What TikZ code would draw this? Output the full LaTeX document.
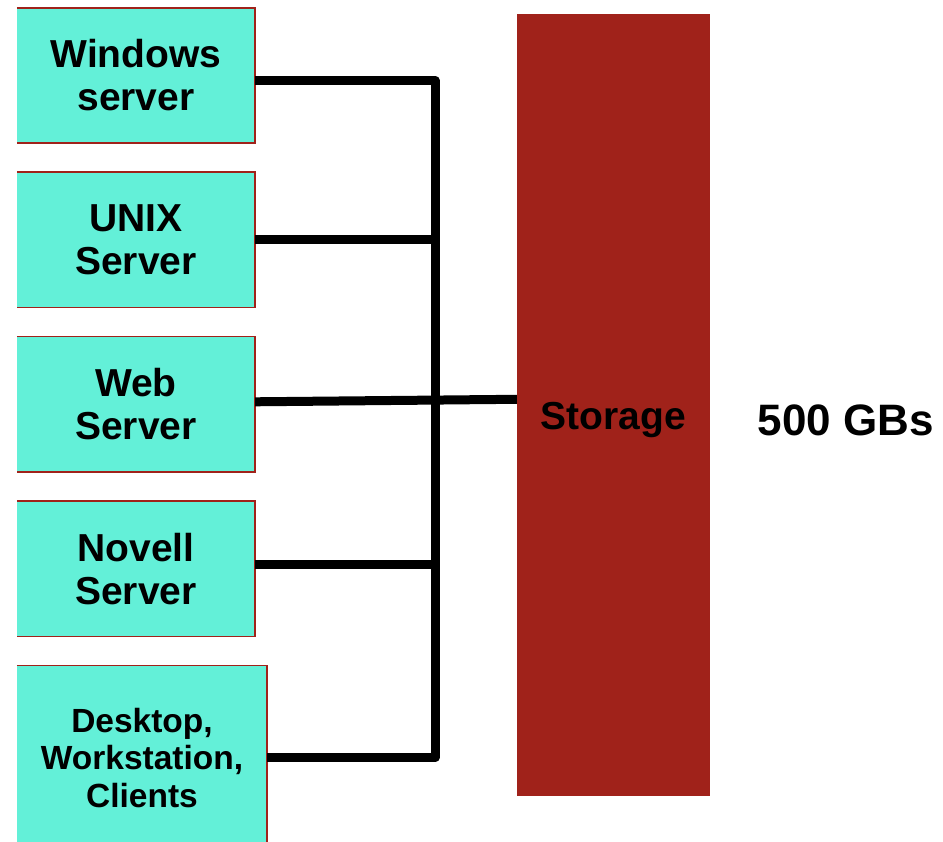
\documentclass[tikz,border=0pt]{standalone}
\usepackage{fontspec}
\setmainfont{Liberation Sans}
\usepackage{xcolor}
\usetikzlibrary{positioning}
\definecolor{servfill}{RGB}{99,240,216}
\definecolor{storred}{RGB}{160,34,26}

\begin{document}
\begin{tikzpicture}[
  x=1pt, y=-1pt,
  font=\fontsize{39}{43}\selectfont\bfseries,
  node distance=29pt,
  srv/.style={fill=servfill, minimum width=238pt, minimum height=135pt, align=center, inner sep=0pt},
  edge/.style={draw=storred, line width=1.6pt},
  wire/.style={line width=9pt, line join=round, black}
]
\useasboundingbox (0,0) rectangle (943,842);
\coordinate (bus) at (435,0);
\node[srv] (win) at (136,75.5) {Windows\\server};
\node[srv, below=of win] (unix) {UNIX\\Server};
\node[srv, below=of unix] (web) {Web\\Server};
\node[srv, below=of web] (nov) {Novell\\Server};
\node[srv, minimum width=250pt, minimum height=184pt, font=\fontsize{33.5}{37.5}\selectfont\bfseries,
  below right=29pt and 0pt of nov.south west] (desk) {Desktop,\\Workstation,\\Clients};
\node[fill=storred, minimum width=193pt, minimum height=782pt, inner sep=0pt,
  label={[yshift=-15pt]center:Storage}] (store) at (613.5,405) {};
\node[font=\fontsize{44}{48}\selectfont\bfseries] (size) at (846,420) {500 GBs};
% borders (left side open)
\foreach \n in {win,unix,web,nov,desk}
  \draw[edge] (\n.north west) -- (\n.north east) -- (\n.south east) -- (\n.south west);
% connectors
\draw[wire] ([yshift=-5pt]win.east) -| (desk.east -| bus) -- (desk.east);
\draw[wire] (unix.east) -- (unix.east -| bus);
\draw[wire] ([yshift=4pt]nov.east) -- ([yshift=4pt]nov.east -| bus);
\draw[wire] ([yshift=2.5pt]web.east) -- ([yshift=5pt]web.east -| store.west);
\end{tikzpicture}
\end{document}
